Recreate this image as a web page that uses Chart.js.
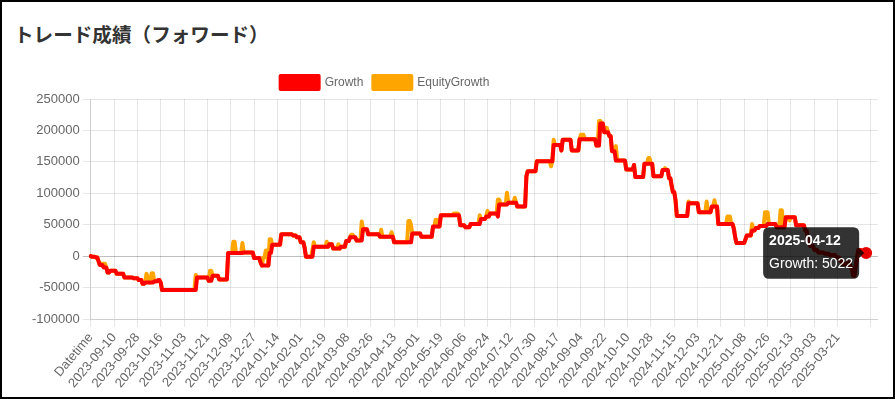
<!DOCTYPE html>
<html lang="ja">
<head>
<meta charset="utf-8">
<title>トレード成績（フォワード）</title>
<script src="https://cdn.jsdelivr.net/npm/chart.js@4"></script>
<style>
  html, body { margin: 0; padding: 0; background: #fff; }
  #frame {
    position: absolute; left: 0; top: 0;
    width: 895px; height: 399px;
    box-sizing: border-box;
    border: 2px solid #000;
    background: #fff;
  }
  #title {
    position: absolute; left: 12px; top: 19px;
    font-family: "Noto Sans CJK JP", sans-serif;
    font-weight: bold; font-size: 19.6px; line-height: 26px;
    color: #333;
  }
  #wrap {
    position: absolute; left: 27px; top: 64px;
    width: 856px; height: 328px;
  }
</style>
</head>
<body>
<div id="frame">
  <div id="title">トレード成績（フォワード）</div>
  <div id="wrap"><canvas id="growthChart"></canvas></div>
</div>
<script>
// first category is the header cell, then one label per day
const firstDay = "2023-08-24";
const dayCount = 607;
const tickEvery = 18;
const lastLabelIndex = 576;
const extraGridIndex = 601;

const yTicks = { min: -100000, max: 250000, step: 50000 };

const growth = [
    0, -1000, -1000, -1000, -2000, -2000, -8000, -14000, -14000, -14000,
    -18000, -18000, -18000, -26000, -26000, -23000, -23000, -23000, -23000, -23000,
    -28000, -28000, -28000, -28000, -28000, -28000, -34000, -34000, -34000, -34000,
    -34000, -34000, -34000, -35000, -35000, -35000, -35000, -38000, -38000, -38000,
    -44000, -44000, -42000, -42000, -42000, -42000, -42000, -42000, -42000, -40000,
    -40000, -40000, -38000, -38000, -42000, -54000, -54000, -54000, -54000, -54000,
    -54000, -54000, -54000, -54000, -54000, -54000, -54000, -54000, -54000, -54000,
    -54000, -54000, -54000, -54000, -54000, -54000, -54000, -54000, -54000, -54000,
    -54000, -54000, -34000, -34000, -34000, -34000, -34000, -34000, -34000, -34000,
    -34000, -39000, -39000, -39000, -31000, -31000, -31000, -31000, -31000, -37000,
    -37000, -37000, -37000, -37000, -37000, -37000, 5000, 5000, 5000, 5000,
    5000, 5000, 5000, 5000, 5000, 5000, 5000, 5000, 6000, 6000,
    6000, 6000, 6000, 6000, 6000, 6000, -3000, -3000, -3000, -3000,
    -3000, -10000, -15000, -15000, -15000, -15000, -15000, -15000, 5000, 5000,
    18000, 18000, 18000, 18000, 18000, 18000, 18000, 35000, 35000, 35000,
    35000, 35000, 35000, 35000, 35000, 35000, 33000, 33000, 33000, 30000,
    30000, 30000, 22000, 22000, 22000, 13000, -1000, -1000, -1000, -1000,
    -1000, -1000, 15000, 15000, 15000, 15000, 15000, 15000, 15000, 15000,
    15000, 15000, 15000, 15000, 19000, 19000, 19000, 12000, 12000, 12000,
    12000, 12000, 12000, 15000, 15000, 15000, 15000, 24000, 24000, 24000,
    30000, 30000, 30000, 30000, 30000, 25000, 25000, 25000, 25000, 25000,
    43000, 43000, 43000, 43000, 35000, 35000, 35000, 35000, 35000, 35000,
    35000, 35000, 35000, 31000, 31000, 31000, 31000, 31000, 31000, 31000,
    31000, 31000, 31000, 31000, 22000, 22000, 22000, 22000, 22000, 22000,
    22000, 22000, 22000, 22000, 22000, 22000, 22000, 22000, 36000, 36000,
    36000, 36000, 36000, 36000, 36000, 31000, 31000, 31000, 31000, 31000,
    31000, 31000, 31000, 31000, 47000, 47000, 47000, 47000, 47000, 47000,
    65000, 65000, 65000, 65000, 65000, 65000, 65000, 65000, 65000, 65000,
    65000, 65000, 65000, 65000, 65000, 49000, 49000, 49000, 49000, 46000,
    46000, 46000, 46000, 51000, 51000, 51000, 51000, 51000, 51000, 51000,
    51000, 59000, 59000, 59000, 59000, 63000, 63000, 63000, 68000, 68000,
    68000, 68000, 68000, 68000, 63000, 82000, 82000, 82000, 82000, 82000,
    82000, 82000, 85000, 85000, 85000, 85000, 85000, 85000, 85000, 79000,
    79000, 79000, 79000, 79000, 79000, 79000, 127000, 135000, 135000, 135000,
    135000, 135000, 135000, 135000, 151000, 151000, 151000, 151000, 151000, 151000,
    151000, 151000, 151000, 151000, 151000, 151000, 151000, 177000, 177000, 177000,
    177000, 177000, 177000, 168000, 185000, 185000, 185000, 185000, 185000, 185000,
    185000, 168000, 168000, 168000, 168000, 168000, 168000, 186000, 186000, 186000,
    186000, 186000, 186000, 186000, 186000, 186000, 186000, 186000, 186000, 186000,
    176000, 176000, 176000, 211000, 211000, 211000, 197000, 197000, 197000, 197000,
    191000, 191000, 167000, 167000, 167000, 152000, 152000, 152000, 152000, 152000,
    152000, 152000, 152000, 138000, 138000, 138000, 138000, 138000, 138000, 145000,
    126000, 126000, 126000, 126000, 126000, 126000, 126000, 147000, 147000, 147000,
    147000, 147000, 147000, 147000, 127000, 127000, 127000, 127000, 127000, 127000,
    127000, 137000, 137000, 137000, 137000, 137000, 124000, 124000, 112000, 102000,
    102000, 89000, 64000, 64000, 64000, 64000, 64000, 64000, 64000, 64000,
    64000, 84000, 84000, 84000, 84000, 84000, 84000, 84000, 84000, 70000,
    70000, 70000, 70000, 70000, 70000, 70000, 70000, 70000, 70000, 79000,
    79000, 79000, 79000, 79000, 51000, 51000, 51000, 51000, 51000, 51000,
    51000, 51000, 51000, 51000, 51000, 51000, 43000, 30000, 21000, 21000,
    21000, 21000, 21000, 21000, 21000, 27000, 33000, 33000, 33000, 33000,
    41000, 41000, 41000, 45000, 45000, 45000, 48000, 48000, 48000, 48000,
    48000, 48000, 51000, 51000, 51000, 51000, 51000, 51000, 51000, 46000,
    46000, 46000, 46000, 46000, 46000, 46000, 62000, 62000, 62000, 62000,
    62000, 62000, 62000, 62000, 49000, 49000, 49000, 49000, 49000, 49000,
    49000, 41000, 41000, 28000, 28000, 16000, 16000, 16000, 10000, 10000,
    10000, 6000, 6000, 6000, 6000, 6000, 4000, 4000, 4000, 4000,
    2000, 2000, 2000, 2000, 2000, -2000, -2000, -2000, -7000, -7000,
    -13000, -13000, -13000, -13000, -10000, -10000, -18000, -18000, -31000, -31000,
    -15000, -2000, 10000, 10000, 10000, 8000, 8000, 8000, 5022
];

const equityGrowth = [
    0, -1000, -1000, -1000, -2000, -2000, -8000, -14000, -12000, -12000,
    -12000, -12000, -18000, -26000, -26000, -23000, -23000, -23000, -23000, -23000,
    -28000, -28000, -28000, -28000, -28000, -28000, -34000, -34000, -34000, -34000,
    -34000, -34000, -34000, -35000, -35000, -35000, -35000, -38000, -38000, -38000,
    -44000, -44000, -42000, -28000, -33000, -42000, -42000, -27000, -27000, -40000,
    -40000, -40000, -38000, -38000, -42000, -54000, -54000, -54000, -54000, -54000,
    -54000, -54000, -54000, -54000, -54000, -54000, -54000, -54000, -54000, -54000,
    -54000, -54000, -54000, -54000, -54000, -54000, -54000, -54000, -54000, -54000,
    -54000, -30000, -34000, -34000, -34000, -34000, -34000, -34000, -34000, -34000,
    -34000, -39000, -23000, -23000, -31000, -31000, -31000, -31000, -31000, -37000,
    -37000, -37000, -37000, -37000, -37000, -37000, 5000, 5000, 5000, 5000,
    23000, 23000, 5000, 5000, 5000, 5000, 5000, 21000, 6000, 6000,
    6000, 6000, 6000, 6000, 6000, 6000, -3000, -3000, -3000, -3000,
    -3000, -10000, -15000, -2000, -2000, 9000, 9000, -15000, 27000, 27000,
    18000, 18000, 18000, 18000, 18000, 18000, 18000, 35000, 35000, 35000,
    35000, 35000, 35000, 35000, 35000, 35000, 33000, 33000, 33000, 30000,
    30000, 30000, 22000, 22000, 22000, 13000, -1000, -1000, -1000, -1000,
    -1000, 10000, 22000, 15000, 15000, 15000, 15000, 15000, 15000, 15000,
    15000, 15000, 23000, 15000, 19000, 19000, 19000, 12000, 12000, 12000,
    12000, 19000, 12000, 15000, 15000, 15000, 15000, 24000, 24000, 24000,
    30000, 34000, 34000, 30000, 30000, 25000, 25000, 25000, 25000, 55000,
    43000, 43000, 43000, 43000, 35000, 35000, 35000, 35000, 35000, 35000,
    35000, 35000, 35000, 31000, 42000, 31000, 31000, 31000, 31000, 31000,
    31000, 31000, 38000, 31000, 22000, 22000, 22000, 22000, 22000, 22000,
    22000, 22000, 22000, 22000, 22000, 56000, 56000, 50000, 36000, 36000,
    36000, 36000, 36000, 36000, 36000, 31000, 31000, 31000, 31000, 31000,
    31000, 31000, 31000, 31000, 47000, 47000, 58000, 58000, 47000, 47000,
    65000, 65000, 65000, 65000, 65000, 65000, 65000, 65000, 65000, 65000,
    68000, 68000, 68000, 68000, 65000, 49000, 49000, 49000, 49000, 46000,
    46000, 46000, 46000, 51000, 51000, 51000, 51000, 51000, 51000, 51000,
    65000, 59000, 59000, 59000, 59000, 63000, 72000, 63000, 68000, 68000,
    68000, 68000, 68000, 68000, 90000, 90000, 82000, 82000, 82000, 82000,
    82000, 101000, 85000, 85000, 85000, 85000, 85000, 93000, 85000, 79000,
    79000, 79000, 79000, 79000, 79000, 79000, 127000, 135000, 135000, 135000,
    135000, 135000, 135000, 135000, 151000, 151000, 151000, 151000, 151000, 151000,
    151000, 151000, 151000, 151000, 151000, 143000, 151000, 185000, 177000, 177000,
    177000, 177000, 177000, 168000, 185000, 185000, 185000, 185000, 185000, 185000,
    185000, 168000, 168000, 168000, 168000, 168000, 168000, 186000, 193000, 193000,
    193000, 186000, 186000, 186000, 186000, 186000, 186000, 186000, 186000, 186000,
    176000, 176000, 215000, 215000, 211000, 211000, 197000, 197000, 204000, 197000,
    191000, 191000, 167000, 167000, 167000, 175000, 152000, 152000, 152000, 152000,
    152000, 152000, 152000, 138000, 138000, 138000, 138000, 138000, 138000, 145000,
    126000, 126000, 126000, 126000, 126000, 126000, 126000, 147000, 147000, 147000,
    156000, 156000, 147000, 147000, 127000, 127000, 127000, 127000, 127000, 127000,
    127000, 137000, 137000, 140000, 137000, 137000, 124000, 124000, 112000, 102000,
    102000, 89000, 64000, 64000, 64000, 64000, 64000, 64000, 64000, 64000,
    64000, 87000, 84000, 84000, 84000, 84000, 84000, 84000, 84000, 70000,
    70000, 70000, 70000, 70000, 70000, 87000, 70000, 70000, 70000, 79000,
    79000, 89000, 79000, 79000, 51000, 51000, 51000, 51000, 51000, 51000,
    51000, 63000, 63000, 63000, 51000, 51000, 45000, 30000, 21000, 21000,
    21000, 21000, 21000, 21000, 21000, 27000, 33000, 33000, 33000, 33000,
    51000, 41000, 41000, 45000, 45000, 45000, 48000, 48000, 48000, 48000,
    70000, 70000, 70000, 51000, 51000, 51000, 51000, 51000, 51000, 46000,
    46000, 46000, 73000, 73000, 46000, 46000, 62000, 62000, 62000, 57000,
    62000, 62000, 62000, 62000, 49000, 49000, 49000, 49000, 49000, 49000,
    49000, 41000, 41000, 28000, 28000, 16000, 16000, 16000, 10000, 10000,
    10000, 6000, 6000, 6000, 6000, 6000, 4000, 4000, 4000, 4000,
    2000, 2000, 2000, 2000, 2000, -2000, -2000, -2000, -7000, -7000,
    -13000, -13000, -13000, -13000, -10000, -10000, -18000, -18000, -31000, -31000,
    -15000, -2000, 10000, 10000, 10000, 8000, 8000, 8000, 5022
];

function buildLabels() {
    const labels = ["Datetime"];
    const start = new Date(firstDay + "T00:00:00Z");
    for (let i = 0; i < dayCount; i++) {
        const d = new Date(start.getTime() + i * 86400000);
        labels.push(d.toISOString().slice(0, 10));
    }
    return labels;
}

const labels = buildLabels();

// nudges the legend row to the left like the original page
const legendShift = {
    id: "legendShift",
    afterLayout(chart) {
        if (chart.legend) chart.legend.right -= 144;
    }
};

const lineStyle = {
    borderWidth: 4,
    borderJoinStyle: "round",
    borderCapStyle: "round",
    pointRadius: 0,
    pointHoverRadius: 5,
    pointHoverBorderWidth: 2,
    tension: 0
};

Chart.defaults.font.family = "'Liberation Sans', Arial, sans-serif";

const ctx = document.getElementById("growthChart").getContext("2d");
const chart = new Chart(ctx, {
    type: "line",
    data: {
        labels: labels,
        datasets: [
            Object.assign({ label: "Growth", data: growth, borderColor: "red", backgroundColor: "red" }, lineStyle),
            Object.assign({ label: "EquityGrowth", data: equityGrowth, borderColor: "orange", backgroundColor: "orange" }, lineStyle)
        ]
    },
    options: {
        responsive: true,
        maintainAspectRatio: false,
        animation: false,
        plugins: {
            legend: {
                labels: {
                    boxWidth: 38,
                    boxHeight: 13,
                    color: "#666",
                    font: { size: 12 }
                }
            },
            tooltip: {
                displayColors: false,
                titleFont: { size: 14, weight: "bold" },
                bodyFont: { size: 14 },
                callbacks: {
                    label: (item) => item.dataset.label + ": " + item.raw
                }
            }
        },
        scales: {
            x: {
                ticks: {
                    autoSkip: false,
                    minRotation: 50,
                    maxRotation: 50,
                    color: "#666",
                    font: { size: 13 },
                    callback: function (value, index) {
                        if (index % tickEvery === 0 && index <= lastLabelIndex) return this.getLabelForValue(value);
                        if (index === extraGridIndex) return "";
                        return null;
                    }
                }
            },
            y: {
                min: yTicks.min,
                max: yTicks.max,
                ticks: {
                    stepSize: yTicks.step,
                    color: "#666",
                    font: { size: 13 },
                    callback: (v) => String(v)
                },
                grid: {
                    color: (c) => (c.tick && c.tick.value === 0 ? "rgba(0,0,0,0.25)" : "rgba(0,0,0,0.1)")
                }
            }
        }
    },
    plugins: [legendShift]
});

const lastPoint = [{ datasetIndex: 0, index: growth.length - 1 }];
chart.setActiveElements(lastPoint);
chart.tooltip.setActiveElements(lastPoint, { x: 0, y: 0 });
chart.update();
</script>
</body>
</html>
